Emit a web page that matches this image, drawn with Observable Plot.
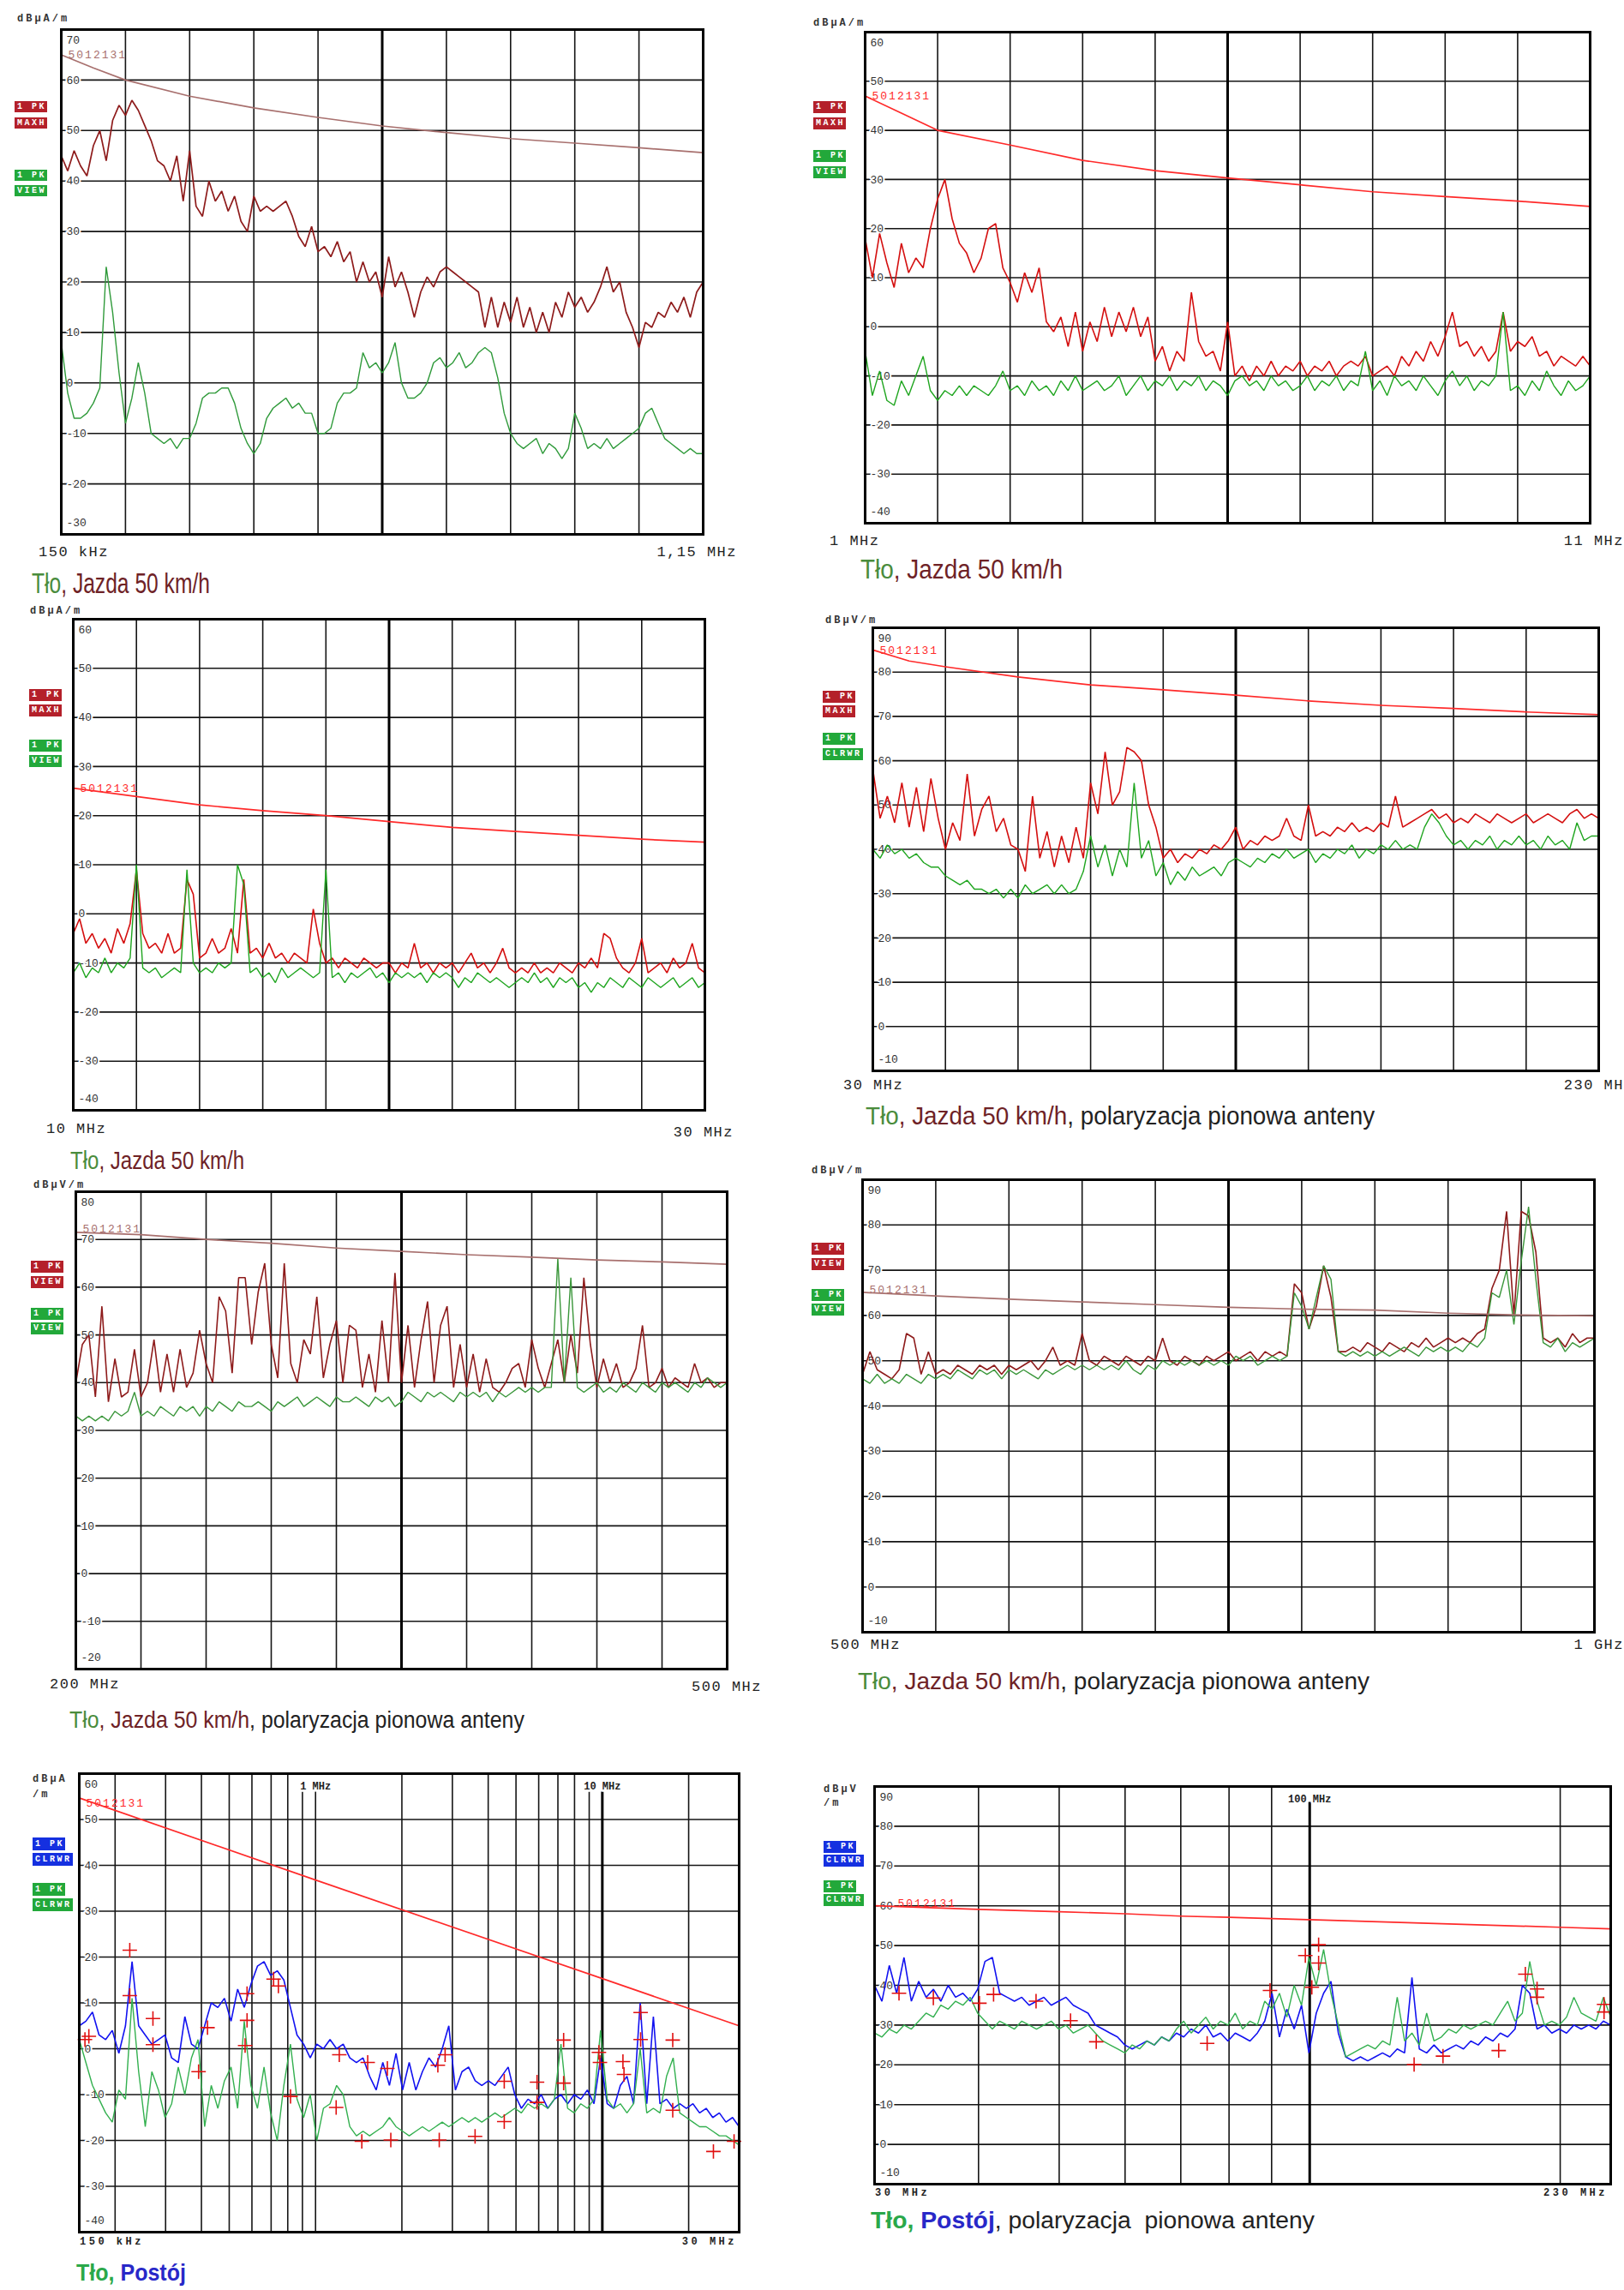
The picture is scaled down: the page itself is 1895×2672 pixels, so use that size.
<!DOCTYPE html>
<html lang="pl">
<head>
<meta charset="utf-8">
<title>Widma zakłóceń – Tło, Jazda 50 km/h, Postój</title>
<script src="https://cdn.jsdelivr.net/npm/d3@7"></script>
<script src="https://cdn.jsdelivr.net/npm/@observablehq/plot@0.6"></script>
<style>
html,body{margin:0;padding:0;background:#fff;}
#page{position:relative;width:1895px;height:2672px;overflow:hidden;background:#fff;}
.a{position:absolute;white-space:nowrap;}
.unit{font:bold 12px 'Liberation Mono','DejaVu Sans Mono',monospace;letter-spacing:3px;color:#333;}
.leg{font:bold 10px 'Liberation Mono','DejaVu Sans Mono',monospace;letter-spacing:2.5px;color:#fff;padding:0 1px 0 3px;}
.xl{font-family:'Liberation Mono','DejaVu Sans Mono',monospace;color:#222;}
.cap{font-family:'Liberation Sans Narrow','Liberation Sans',sans-serif;white-space:pre;transform-origin:left center;}
</style>
</head>
<body>
<div id="page"></div>
<script>
// ---------------- DATA ----------------
// Sweep definitions (MHz): [start, stop, logarithmic]
const p1Sweep = [0.15, 1.15, false];
const p2Sweep = [1, 11, false];
const p3Sweep = [10, 30, false];
const p4Sweep = [30, 230, false];
const p5Sweep = [200, 500, false];
const p6Sweep = [500, 1000, false];
const p7Sweep = [0.15, 30, true];
const p8Sweep = [30, 230, true];

// Y ranges (dB)
const p1Range = [-30, 70];
const p2Range = [-40, 60];
const p3Range = [-40, 60];
const p4Range = [-10, 90];
const p5Range = [-20, 80];
const p6Range = [-10, 90];
const p7Range = [-40, 60];
const p8Range = [-10, 90];

// Limit lines "5012131" [MHz, dB]
const p1Limit = [[0.15,65],[0.2,62.4],[0.25,60],[0.35,56.8],[0.45,54.5],[0.55,52.6],[0.65,50.9],[0.75,49.6],[0.85,48.4],[0.95,47.5],[1.05,46.6],[1.15,45.6]];
const p2Limit = [[1,47],[1.5,43.5],[2,40],[3,37],[4,33.9],[5,31.8],[6,30.3],[7,28.9],[8,27.5],[9,26.5],[10,25.6],[11,24.5]];
const p3Limit = [[10,25.6],[12,23.9],[14,22.2],[16,21],[18,20],[20,18.8],[22,17.6],[24,16.8],[26,16],[28,15.2],[30,14.6]];
const p4Limit = [[30,85],[40,82.5],[50,81.2],[70,78.9],[90,77.1],[110,76],[130,74.8],[150,73.5],[170,72.5],[190,71.8],[210,71],[230,70.4]];
const p5Limit = [[200,71.5],[230,71],[260,70],[290,69.2],[320,68.2],[350,67.5],[380,66.8],[410,66.3],[440,65.7],[470,65.3],[500,64.8]];
const p6Limit = [[500,65.1],[550,64.3],[600,63.6],[650,63],[700,62.4],[750,61.8],[800,61.4],[850,61.2],[900,60.5],[950,60.1],[1000,59.9]];
const p7Limit = [[0.15,54.7],[1,36.8],[10,15.3],[30,5]];
const p8Limit = [[30,60],[40,59.1],[50,58.5],[60,58],[70,57.4],[80,57.1],[90,56.8],[100,56.5],[200,54.6],[230,54.2]];

// Traces: values sampled evenly across each sweep (101 points)
const p1Red = [45,42,46,43,41,47,50,44,52,55, 53,56,54,51,48,44,43,40,45,36, 46,35,33,40,36,38,34,37,32,30, 37,34,35,34,35,36,33,29,27,31, 26,27,25,28,24,26,20,24,20,22, 17,25,19,22,18,13,18,21,19,22, 23,22,21,20,19,18,11,17,11,16, 12,17,11,15,10,14,10,16,13,18, 15,17,14,16,19,23,18,20,14,11, 7,12,11,14,13,16,14,17,13,18,20];
const p1Green = [8,-2,-7,-7,-6,-4,-1,23,14,2, -8,-3,4,-2,-10,-11,-12,-11,-13,-11, -11,-8,-3,-2,-2,-1,-1,-4,-9,-12, -14,-12,-7,-5,-4,-3,-5,-4,-6,-6, -10,-10,-9,-4,-2,-2,-1,6,3,4, 2,4,8,0,-3,-3,-2,0,4,5, 3,4,6,3,4,6,7,6,1,-6, -10,-12,-13,-12,-11,-14,-12,-13,-15,-13, -6,-9,-13,-12,-13,-11,-13,-12,-11,-10, -9,-6,-5,-8,-11,-12,-13,-14,-13,-14,-14];

const p2Red = [18,10,19,13,8,17,11,14,12,20, 26,30,22,17,15,11,14,20,21,12, 9,5,11,7,12,1,-1,2,-4,3, -5,1,-3,4,-2,3,-1,4,-2,2, -7,-4,-9,-5,-7,7,-3,-6,-5,-9, 1,-10,-8,-11,-8,-10,-7,-10,-8,-9, -7,-10,-8,-9,-7,-10,-8,-7,-8,-6, -10,-9,-8,-10,-6,-8,-5,-7,-3,-6, -2,3,-4,-3,-6,-4,-7,-5,3,-5, -3,-4,-2,-6,-5,-8,-6,-7,-8,-6,-8];
const p2Green = [-5,-14,-9,-15,-16,-11,-14,-10,-6,-13, -15,-13,-14,-12,-14,-12,-13,-14,-12,-9, -13,-12,-14,-11,-13,-12,-14,-11,-13,-10, -13,-12,-11,-13,-12,-10,-14,-12,-10,-13, -11,-12,-10,-13,-11,-12,-10,-13,-11,-12, -14,-11,-10,-12,-11,-13,-10,-12,-11,-13, -12,-10,-13,-11,-12,-10,-13,-11,-12,-5, -13,-11,-14,-10,-12,-11,-13,-10,-12,-14, -11,-9,-12,-10,-13,-11,-12,-10,3,-13, -12,-14,-11,-13,-9,-12,-14,-11,-13,-12,-10];

const p3Red = [-4,-1,-6,-4,-7,-5,-8,-3,-6,-2, 9,-4,-7,-6,-8,-4,-8,-7,7,4, -9,-8,-5,-8,-7,-3,-8,7,-8,-7, -9,-6,-9,-8,-10,-8,-9,-10,1,-6, -10,-9,-11,-9,-10,-11,-9,-10,-11,-10, -10,-12,-10,-11,-6,-11,-10,-12,-10,-11, -10,-12,-10,-8,-11,-10,-12,-10,-7,-11, -12,-11,-12,-10,-12,-11,-12,-10,-11,-12, -10,-11,-9,-11,-4,-5,-9,-11,-12,-10, -5,-12,-11,-10,-12,-9,-11,-10,-6,-11,-12];
const p3Green = [-12,-10,-13,-11,-12,-9,-12,-10,-11,-9, 10,-11,-12,-11,-13,-12,-11,-12,9,-10, -12,-11,-12,-10,-11,-10,10,6,-12,-11, -13,-12,-14,-11,-13,-12,-11,-12,-13,-12, 9,-13,-12,-14,-12,-13,-12,-11,-13,-12, -14,-12,-13,-12,-13,-12,-14,-12,-13,-12, -13,-15,-13,-14,-12,-13,-14,-13,-14,-15, -14,-13,-14,-12,-14,-13,-15,-13,-14,-13, -15,-14,-16,-14,-15,-13,-14,-15,-13,-14, -15,-13,-14,-15,-14,-13,-15,-14,-13,-15,-14];

const p4Red = [58,47,52,46,55,45,54,44,56,47, 40,46,42,57,43,49,52,44,47,41, 40,35,52,38,44,36,43,37,45,38, 55,48,62,50,53,63,62,60,50,45, 38,40,37,39,38,40,39,41,40,42, 45,40,42,41,43,42,43,47,43,42, 50,43,44,43,45,44,46,44,45,44, 46,45,52,45,46,47,48,49,47,48, 46,47,46,48,47,46,48,47,46,47, 48,46,47,48,47,46,48,49,47,48,47];
const p4Green = [40,38,41,39,40,38,39,37,36,36, 34,33,32,33,31,31,30,31,29,31, 29,32,30,31,32,30,32,30,31,35, 43,36,41,34,40,36,55,38,42,34, 37,32,35,33,36,34,35,36,34,37, 38,37,36,38,37,39,38,40,38,39, 40,37,39,38,40,39,41,38,40,39, 41,40,42,40,41,40,45,48,46,43, 41,42,40,42,41,43,40,42,41,43, 41,42,40,43,41,42,40,46,42,43,43];

const p5Red = [40,48,50,37,56,36,45,37,38,47, 37,40,49,38,46,38,47,39,42,51, 44,40,58,55,42,62,62,48,59,65, 48,41,65,44,40,49,46,58,41,48, 53,40,52,51,39,46,38,53,40,63, 40,52,39,49,57,40,52,56,39,48, 39,46,38,45,39,38,40,43,44,39, 49,43,39,44,49,40,50,42,62,48, 39,45,40,44,39,40,43,52,39,40, 43,39,41,40,39,44,40,41,39,40,40];
const p5Green = [33,32,33,32,33,32,34,33,34,38, 33,34,33,35,34,33,35,34,35,33, 35,34,36,35,34,36,35,35,36,35, 34,36,35,36,37,35,36,37,36,35, 37,36,36,37,36,35,37,36,37,35, 36,38,37,36,38,37,38,37,36,38, 37,38,37,38,36,38,37,38,39,38, 39,38,39,39,66,40,62,39,38,39, 40,38,39,38,40,39,38,40,39,38, 40,39,40,39,38,40,39,41,40,39,40];

const p6Red = [47,52,48,47,46,48,56,55,47,52, 47,48,47,49,48,47,49,48,49,47, 49,48,49,50,48,50,53,49,50,49, 56,50,49,51,50,49,51,50,49,51, 50,55,50,49,51,50,49,51,50,51, 52,50,51,52,50,52,51,52,51,67, 65,57,62,71,64,52,52,53,52,54, 53,52,54,53,52,54,53,55,53,54, 55,54,55,54,56,57,66,70,83,60, 83,82,74,55,54,55,53,56,54,55,55];
const p6Green = [46,45,47,45,46,45,47,46,45,47, 46,47,46,48,47,46,48,47,48,46, 48,47,48,47,46,48,47,48,49,48, 49,48,49,48,49,48,50,48,47,49, 48,50,49,50,49,50,49,50,49,50, 49,51,50,51,49,50,51,50,51,65, 62,57,64,71,68,52,51,52,51,52, 51,52,51,52,53,52,51,53,52,53, 52,53,52,54,53,55,65,64,70,58, 72,84,68,54,53,55,52,54,53,54,55];

const p7Blue = [5,6,8,3,2,4,-1,5,19,5, 3,1,2,3,-2,-3,7,1,0,5, 10,9,11,6,13,9,14,18,19,16, 17,15,9,3,1,-2,1,0,2,0, 1,-2,-3,-2,-6,-9,-3,-8,-1,-9, -3,-9,-5,-2,-4,0,5,-9,-5,-4, -7,-8,-7,-8,-6,-4,-10,-13,-11,-12, -10,-13,-11,-10,-12,-10,-11,-9,-12,-2, -12,-13,-8,-6,-12,10,-12,7,-12,-11, -13,-12,-13,-12,-14,-13,-15,-14,-16,-15,-17];
const p7Green = [2,-3,-8,-11,-14,-16,-9,-11,11,-5, -17,-5,-9,-15,-12,-4,-10,-2,2,-17, -8,-13,-7,-4,-13,6,-8,-13,-4,-14, -20,-8,1,-11,-15,-10,-20,-13,-12,-8, -10,-17,-19,-18,-19,-18,-17,-15,-17,-18, -19,-18,-17,-18,-17,-16,-17,-16,-15,-16, -15,-16,-15,-14,-15,-14,-13,-14,-12,-13, -12,-13,-11,1,-13,-14,-12,-13,-11,4, -11,-13,-12,-14,-12,0,-14,-13,-14,-6, -2,-14,-15,-16,-17,-17,-18,-19,-19,-20,-21];
const p7Markers = [[0.157,2],[0.162,2.7],[0.225,21.5],[0.225,11.6],[0.271,6.6],[0.271,0.9],[0.391,-5],[0.42,4.6],[0.568,0.7],[0.577,12],[0.577,6.2],[0.714,15.2],[0.742,13.7],[0.818,-10.4],[1.18,-12.8],[1.21,-1.3],[1.45,-20.2],[1.52,-3],[1.78,-4.3],[1.83,-19.9],[2.67,-3.6],[2.70,-19.9],[2.83,-1.3],[3.60,-19.1],[4.55,-7.1],[4.55,-15.9],[5.92,-7.3],[5.92,-11.7],[7.33,1.9],[7.33,-7.5],[9.73,-0.8],[9.81,-3],[11.8,-2.8],[11.9,-5.6],[13.6,7.9],[13.6,2],[17.6,1.9],[17.6,-13.4],[24.4,-22.4],[28.8,-20.2]];

const p8Blue = [40,36,45,38,47,36,41,37,39,36, 40,37,38,36,39,46,47,38,37,36, 37,35,36,37,35,36,37,35,34,33, 30,29,28,27,25,24,25,26,25,27, 26,28,27,29,28,30,27,28,26,28, 27,26,28,31,38,27,34,29,35,23, 33,38,41,28,22,21,22,21,22,23, 22,24,23,42,24,23,25,23,24,25, 24,26,25,27,26,28,27,29,40,38, 29,30,28,29,28,30,29,30,29,31,30];
const p8Green = [28,27,29,28,30,29,31,33,32,35, 34,36,35,37,33,31,29,31,30,29, 31,30,29,30,31,29,30,28,29,30, 28,26,25,24,23,25,24,26,25,27, 26,29,31,28,30,32,29,31,30,33, 29,31,30,36,34,38,32,40,35,47, 40,49,38,30,22,23,24,25,24,26, 25,37,26,28,25,33,26,27,29,28, 30,29,30,31,30,33,36,31,33,46, 36,30,31,30,32,37,33,32,31,37,32];
const p8Markers = [[32.1,38],[35.3,36.8],[40.1,35.5],[41.7,37.7],[46.9,36],[51.6,31.1],[55.4,25.8],[75.3,25.4],[89.6,38.7],[98.8,47.5],[100.6,39.5],[102.5,50.2],[102.5,45.6],[133.5,20.1],[144.6,22.2],[168.7,23.6],[181.6,42.8],[187.6,39.1],[187.6,37],[225.8,35.2],[225.8,33.3]];

// Log-panel grid frequencies (MHz)
const p7Grid = [0.2,0.3,0.4,0.5,0.6,0.7,0.8,0.9,1,2,3,4,5,6,7,8,9,10,20];
const p8Grid = [40,50,60,70,80,90,100,200];

// Text
const limitName = "5012131";
const p1XLabels = ["150 kHz", "1,15 MHz"];
const p2XLabels = ["1 MHz", "11 MHz"];
const p3XLabels = ["10 MHz", "30 MHz"];
const p4XLabels = ["30 MHz", "230 MH"];
const p5XLabels = ["200 MHz", "500 MHz"];
const p6XLabels = ["500 MHz", "1 GHz"];
const p7XLabels = ["150 kHz", "30 MHz"];
const p8XLabels = ["30 MHz", "230 MHz"];
const p7TopLabels = [[1, "1 MHz"], [10, "10 MHz"]];
const p8TopLabels = [[100, "100 MHz"]];

// ---------------- RENDER ----------------
const mono = "'Liberation Mono','DejaVu Sans Mono',monospace";
const page = document.getElementById("page");

const C = {
  maroon: "#8e1b1b", red: "#d40f0f", green: "#1fa51f", green1: "#2f9a3a", green5: "#3a963a",
  blue: "#1212f0", limRed: "#ff2a2a", limBrown: "#a8706e", mark: "#e01010",
  boxRed: "#b4202a", boxGreen: "#22a83a", boxBlue: "#1530e0",
  capGreen: "#4a8c3c", capMaroon: "#6e2226", capDark: "#222", capGreenB: "#2aa84a", capBlue: "#2828c8"
};

function series(values, sw) {
  const [f0, f1, log] = sw, n = values.length;
  return values.map((v, i) => ({f: log ? f0 * Math.pow(f1 / f0, i / (n - 1)) : f0 + (f1 - f0) * i / (n - 1), v}));
}

function addDiv(text, cls, x, y, align, style) {
  const d = document.createElement("div");
  d.className = "a " + cls;
  d.textContent = text;
  if (align === "right") d.style.right = (1895 - x) + "px"; else d.style.left = x + "px";
  d.style.top = y + "px";
  d.style.transform = "translateY(-50%)";
  Object.assign(d.style, style || {});
  page.appendChild(d);
  return d;
}

function addBox(text, color, x, top, h) {
  const d = document.createElement("div");
  d.className = "a leg";
  d.textContent = text;
  d.style.left = x + "px"; d.style.top = top + "px";
  d.style.height = h + "px"; d.style.lineHeight = h + "px";
  d.style.background = color;
  page.appendChild(d);
}

function addCaption(parts, x, y, size, target) {
  const d = document.createElement("div");
  d.className = "a cap";
  d.style.left = x + "px"; d.style.top = y + "px";
  d.style.fontSize = size + "px";
  d.style.lineHeight = "1.15";
  for (const [t, col, w] of parts) {
    const s = document.createElement("span");
    s.textContent = t; s.style.color = col; if (w) s.style.fontWeight = w;
    d.appendChild(s);
  }
  page.appendChild(d);
  const w = d.getBoundingClientRect().width;
  const k = w > 0 ? target / w : 1;
  d.style.transform = `translateY(-50%) scaleX(${k.toFixed(3)})`;
}

function drawPanel(p) {
  const [L, T, R, B] = p.box, m = 4;
  const [f0, f1, log] = p.sweep;
  const [y0, y1] = p.range;
  const ticks = d3.range(y0, y1 + 1, 10);
  const inner = ticks.filter(t => t > y0 && t < y1);
  let grid;
  if (log) grid = p.grid.map(f => ({f, thick: p.thick.includes(f), short: p.short.includes(f)}));
  else grid = d3.range(1, 10).map(k => ({f: f0 + (f1 - f0) * k / 10, thick: k === 5, short: false}));
  const gap = p.shortGap || 0;
  const tickStyle = {fontFamily: mono, fontSize: 13, fill: "#333", stroke: "white", strokeWidth: 4, textAnchor: "start", frameAnchor: "left", dx: 6};
  const marks = [
    Plot.ruleY(inner, {stroke: "#151515", strokeWidth: 1.6}),
    Plot.ruleX(grid.filter(g => !g.thick), {x: "f", y1: y0, y2: g => g.short ? y1 - gap : y1, stroke: "#151515", strokeWidth: 1.6}),
    Plot.ruleX(grid.filter(g => g.thick), {x: "f", y1: y0, y2: g => g.short ? y1 - gap : y1, stroke: "#000", strokeWidth: 3}),
    Plot.text(inner, {y: d => d, text: d => String(d), ...tickStyle}),
    Plot.text([y1], {y: d => d, text: d => String(d), ...tickStyle, dy: 12}),
    Plot.text([y0], {y: d => d, text: d => String(d), ...tickStyle, dy: -14})
  ];
  if (p.top) marks.push(Plot.text(p.top, {x: d => d[0], text: d => d[1], frameAnchor: "top", dy: 10, fontFamily: mono, fontSize: 12, fontWeight: "bold", fill: "#222", stroke: "white", strokeWidth: 5}));
  for (const tr of p.traces) {
    marks.push(Plot.line(series(tr.v, p.sweep), {x: "f", y: "v", stroke: tr.c, strokeWidth: tr.w, strokeLinejoin: "miter"}));
  }
  marks.push(Plot.line(p.limit, {x: d => d[0], y: d => d[1], stroke: p.limColor, strokeWidth: 1.7}));
  marks.push(Plot.text([p.limit[0]], {x: d => d[0], y: d => d[1], text: () => limitName, dx: p.limDx || 8, dy: p.limDy, textAnchor: "start", fill: p.limColor, fontFamily: mono, fontSize: 13}));
  if (p.markers) marks.push(Plot.dot(p.markers, {x: d => d[0], y: d => d[1], symbol: "plus", r: 5.5, stroke: C.mark, strokeWidth: 1.6}));
  marks.push(Plot.frame({stroke: "#000", strokeWidth: 3}));

  const svg = Plot.plot({
    width: R - L + 2 * m, height: B - T + 2 * m,
    marginLeft: m, marginRight: m, marginTop: m, marginBottom: m,
    x: {type: log ? "log" : "linear", domain: [f0, f1], axis: null},
    y: {domain: [y0, y1], axis: null},
    style: {background: "transparent", overflow: "visible"},
    marks
  });
  for (const t of svg.querySelectorAll("text")) if (t.textContent === limitName) t.setAttribute("letter-spacing", "2");
  const wrap = document.createElement("div");
  wrap.className = "a";
  wrap.style.left = (L - m) + "px"; wrap.style.top = (T - m) + "px";
  wrap.appendChild(svg);
  page.appendChild(wrap);

  p.unit.forEach(([t, x, y]) => addDiv(t, "unit", x, y));
  const [lx, tops, h] = p.legPos;
  p.legend.forEach(([t, col], i) => addBox(t, col, lx, tops[i], h));
  const xs = p.xlStyle;
  addDiv(p.xl[0], "xl", p.xlPos[0][0], p.xlPos[0][1], "left", xs);
  addDiv(p.xl[1], "xl", p.xlPos[1][0], p.xlPos[1][1], "right", xs);
  addCaption(p.cap, p.capPos[0], p.capPos[1], p.capPos[2], p.capPos[3]);
}

const xlBig = {fontSize: "17px", letterSpacing: "1.5px"};
const xlSmall = {fontSize: "12px", letterSpacing: "3.5px", fontWeight: "bold"};
const capJ = [["Tło", C.capGreen], [", Jazda 50 km/h", C.capMaroon]];
const capJP = [["Tło", C.capGreen], [", Jazda 50 km/h", C.capMaroon], [", polaryzacja pionowa anteny", C.capDark]];
const legMaxView = (r) => [["1 PK", r], ["MAXH", r], ["1 PK", C.boxGreen], ["VIEW", C.boxGreen]];

const panels = [
  {box: [71, 34, 820, 623], sweep: p1Sweep, range: p1Range,
   traces: [{v: p1Green, c: C.green1, w: 1.4}, {v: p1Red, c: C.maroon, w: 1.7}],
   limit: p1Limit, limColor: C.limBrown, limDy: 0,
   unit: [["dBµA/m", 20, 22]], legPos: [17, [118, 137, 198, 216], 13], legend: legMaxView(C.boxRed),
   xl: p1XLabels, xlPos: [[45, 644], [860, 644]], xlStyle: xlBig, cap: capJ, capPos: [37, 681, 34, 208]},
  {box: [1009, 37, 1855, 610], sweep: p2Sweep, range: p2Range,
   traces: [{v: p2Red, c: C.red, w: 1.6}, {v: p2Green, c: C.green, w: 1.4}],
   limit: p2Limit, limColor: C.limRed, limDy: 0,
   unit: [["dBµA/m", 949, 27]], legPos: [949, [118, 137, 175, 194], 14], legend: legMaxView(C.boxRed),
   xl: p2XLabels, xlPos: [[968, 631], [1895, 631]], xlStyle: xlBig, cap: capJ, capPos: [1004, 665, 31, 236]},
  {box: [85, 722, 822, 1295], sweep: p3Sweep, range: p3Range,
   traces: [{v: p3Red, c: C.red, w: 1.6}, {v: p3Green, c: C.green, w: 1.4}],
   limit: p3Limit, limColor: C.limRed, limDy: 0,
   unit: [["dBµA/m", 35, 713]], legPos: [34, [804, 822, 863, 881], 14], legend: legMaxView(C.boxRed),
   xl: p3XLabels, xlPos: [[54, 1317], [856, 1321]], xlStyle: xlBig, cap: capJ, capPos: [82, 1355, 29, 203]},
  {box: [1018, 732, 1865, 1249], sweep: p4Sweep, range: p4Range,
   traces: [{v: p4Red, c: C.red, w: 1.6}, {v: p4Green, c: C.green, w: 1.4}],
   limit: p4Limit, limColor: C.limRed, limDy: 0,
   unit: [["dBµV/m", 963, 724]], legPos: [960, [806, 823, 855, 873], 14],
   legend: [["1 PK", C.boxRed], ["MAXH", C.boxRed], ["1 PK", C.boxGreen], ["CLRWR", C.boxGreen]],
   xl: p4XLabels, xlPos: [[984, 1266], [1895, 1266]], xlStyle: xlBig, cap: capJP, capPos: [1010, 1303, 29, 594]},
  {box: [88, 1390, 848, 1947], sweep: p5Sweep, range: p5Range,
   traces: [{v: p5Red, c: C.maroon, w: 1.6}, {v: p5Green, c: C.green5, w: 1.4}],
   limit: p5Limit, limColor: C.limBrown, limDy: -4,
   unit: [["dBµV/m", 39, 1383]], legPos: [36, [1471, 1489, 1526, 1543], 14],
   legend: [["1 PK", C.boxRed], ["VIEW", C.boxRed], ["1 PK", C.boxGreen], ["VIEW", C.boxGreen]],
   xl: p5XLabels, xlPos: [[58, 1965], [889, 1968]], xlStyle: xlBig, cap: capJP, capPos: [81, 2008, 27, 531]},
  {box: [1006, 1376, 1860, 1904], sweep: p6Sweep, range: p6Range,
   traces: [{v: p6Red, c: C.maroon, w: 1.6}, {v: p6Green, c: C.green5, w: 1.4}],
   limit: p6Limit, limColor: C.limBrown, limDy: -3,
   unit: [["dBµV/m", 947, 1366]], legPos: [947, [1450, 1468, 1504, 1521], 14],
   legend: [["1 PK", C.boxRed], ["VIEW", C.boxRed], ["1 PK", C.boxGreen], ["VIEW", C.boxGreen]],
   xl: p6XLabels, xlPos: [[969, 1919], [1895, 1919]], xlStyle: xlBig, cap: capJP, capPos: [1001, 1962, 28, 597]},
  {box: [92, 2069, 862, 2604], sweep: p7Sweep, range: p7Range, grid: p7Grid, thick: [10], short: [0.9, 1, 9, 10], shortGap: 4, top: p7TopLabels,
   traces: [{v: p7Blue, c: C.blue, w: 1.6}, {v: p7Green, c: "#33b04f", w: 1.4}],
   limit: p7Limit, limColor: C.limRed, limDy: 6, markers: p7Markers,
   unit: [["dBµA", 38, 2076], ["/m", 38, 2094]], legPos: [38, [2144, 2162, 2197, 2215], 15],
   legend: [["1 PK", C.boxBlue], ["CLRWR", C.boxBlue], ["1 PK", C.boxGreen], ["CLRWR", C.boxGreen]],
   xl: p7XLabels, xlPos: [[93, 2616], [860, 2616]], xlStyle: xlSmall,
   cap: [["Tło, ", C.capGreenB, "bold"], ["Postój", C.capBlue, "bold"]], capPos: [89, 2653, 27, 128]},
  {box: [1020, 2084, 1879, 2548], sweep: p8Sweep, range: p8Range, grid: p8Grid, thick: [100], short: [100], shortGap: 4, top: p8TopLabels,
   traces: [{v: p8Blue, c: C.blue, w: 1.6}, {v: p8Green, c: "#33b04f", w: 1.4}],
   limit: p8Limit, limColor: C.limRed, limDy: -3, limDx: 27, markers: p8Markers,
   unit: [["dBµV", 961, 2088], ["/m", 961, 2104]], legPos: [961, [2148, 2164, 2194, 2210], 14],
   legend: [["1 PK", C.boxBlue], ["CLRWR", C.boxBlue], ["1 PK", C.boxGreen], ["CLRWR", C.boxGreen]],
   xl: p8XLabels, xlPos: [[1021, 2559], [1876, 2559]], xlStyle: xlSmall,
   cap: [["Tło, ", C.capGreenB, "bold"], ["Postój", C.capBlue, "bold"], [", polaryzacja  pionowa anteny", C.capDark]], capPos: [1016, 2592, 27, 518]}
];

panels.forEach(drawPanel);
</script>
</body>
</html>
